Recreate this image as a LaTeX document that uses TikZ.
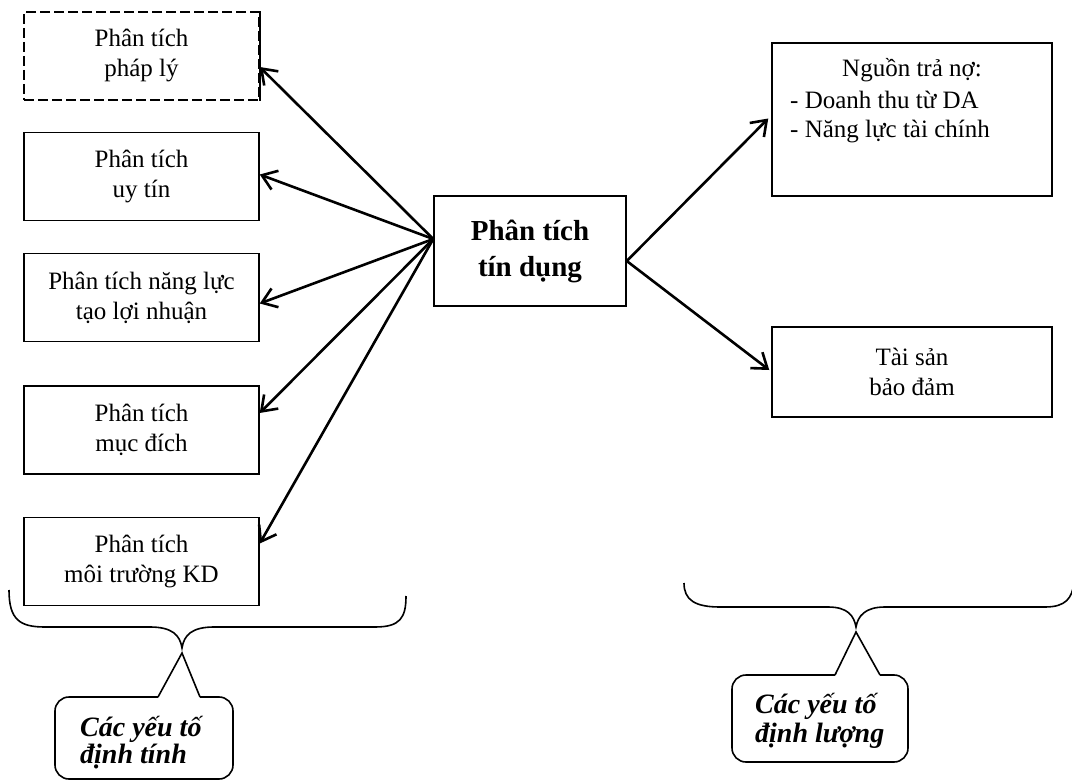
\documentclass[tikz,border=0pt]{standalone}
\usepackage{fontspec}
\setmainfont{Liberation Serif}
\usetikzlibrary{arrows.meta}
\tikzset{
  box/.style={draw, line width=1.5pt, inner sep=0pt, minimum width=235pt, minimum height=88pt, align=center, font=\fontsize{25}{30}\selectfont},
  rbox/.style={draw, line width=1.5pt, inner sep=0pt, minimum width=280pt, align=center, font=\fontsize{25}{30}\selectfont},
  cbox/.style={draw, line width=1.5pt, inner sep=0pt, minimum width=192pt, minimum height=110pt, align=center, font=\bfseries\fontsize{29}{36}\selectfont},
  txt/.style={inner sep=0pt, font=\fontsize{25}{30}\selectfont},
  ctxt/.style={inner sep=0pt, anchor=base west, font=\fontsize{28}{32}\selectfont\bfseries\itshape},
  arr/.style={line width=2.6pt, -{Straight Barb[length=14pt,width=20pt,line width=2.6pt]}},
  brace/.style={line width=1.6pt},
  callout/.style={line width=1.6pt, rounded corners=14pt}
}
\begin{document}
\begin{tikzpicture}[x=1pt,y=-1pt]
\useasboundingbox (0,0) rectangle (1072,781);
% left boxes
\node[box, dash pattern=on 10pt off 4pt] (b1) at (141.5,56) {Phân tích\\pháp lý};
\draw[line width=1.5pt] (b1.north east) -- (b1.south east);
\node[box] (b2) at (141.5,176.5) {Phân tích\\uy tín};
\node[box] (b3) at (141.5,297.5) {Phân tích năng lực\\tạo lợi nhuận};
\node[box] (b4) at (141.5,430) {Phân tích\\mục đích};
\node[box] (b5) at (141.5,561.5) {Phân tích\\môi trường KD};
% center
\node[cbox] (c) at (530,251) {Phân tích\\tín dụng};
% right boxes
\node[rbox, minimum height=153pt] (r1) at (912,119.5) {};
\node[txt, anchor=base] (r1a) at (912,77) {Nguồn trả nợ:};
\node[txt, anchor=base west] (r1b) at (790,109) {- Doanh thu từ DA};
\node[txt, anchor=base west] (r1c) at (790,138) {- Năng lực tài chính};
\node[rbox, minimum height=90pt] (r2) at (912,372) {Tài sản\\bảo đảm};
% arrows
\coordinate (cl) at ([yshift=12pt]c.west);
\coordinate (cr) at ([yshift=-10pt]c.east);
\draw[arr] (cl) -- ([yshift=-11pt]b1.east);
\draw[arr] (cl) -- ([yshift=2pt]b2.east);
\draw[arr] (cl) -- ([yshift=-6pt]b3.east);
\draw[arr] (cl) -- ([yshift=17pt]b4.east);
\draw[arr] (cl) -- ([yshift=18pt]b5.east);
\draw[arr] (cr) -- ([xshift=-3pt,yshift=1pt]r1.west);
\draw[arr] (cr) -- ([xshift=-2pt,yshift=2pt]r2.west);
% left brace
\draw[brace] (9,590) .. controls (9,620) and (20,627) .. (45,627)
  -- (150,627) .. controls (172,627) and (180,635) .. (182,648)
  .. controls (184,635) and (192,627) .. (214,627)
  -- (375,627) .. controls (400,627) and (406,618) .. (406,596);
% right brace
\draw[brace] (684,583) .. controls (684,600) and (695,607) .. (720,607)
  -- (828,607) .. controls (848,607) and (854,616) .. (856,627)
  .. controls (858,616) and (865,607) .. (885,607)
  -- (1045,607) .. controls (1066,607) and (1072,598) .. (1074,583);
% left callout
\draw[callout] (158,697) -- (55,697) -- (55,779) -- (233,779) -- (233,697) -- (200,697);
\draw[brace, line join=miter] (158,697) -- (182,653) -- (200,697);
\node[ctxt] (l1) at (80,736) {Các yếu tố};
\node[ctxt] (l2) at (80,763) {định tính};
% right callout
\draw[callout] (835,675) -- (732,675) -- (732,762) -- (908,762) -- (908,675) -- (880,675);
\draw[brace, line join=miter] (835,675) -- (856,632) -- (880,675);
\node[ctxt] (q1) at (755,713) {Các yếu tố};
\node[ctxt] (q2) at (755,742) {định lượng};
\end{tikzpicture}
\end{document}
